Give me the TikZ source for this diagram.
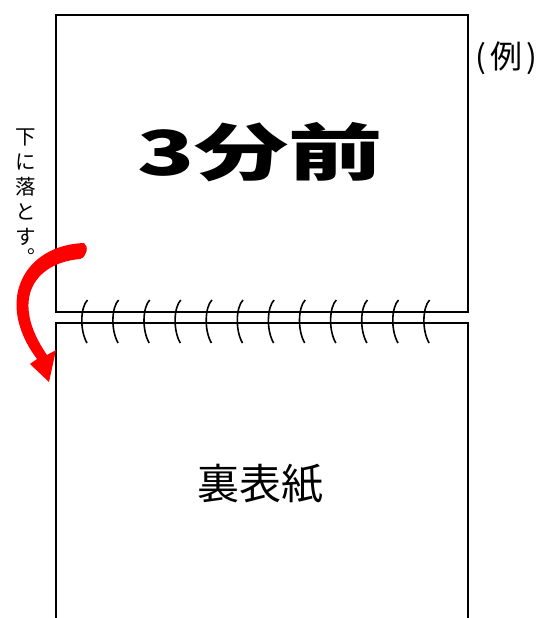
\documentclass[tikz,border=0pt]{standalone}
\usepackage{fontspec}
\usepackage{graphicx}
\newfontfamily\jp{Noto Sans CJK JP}
\usetikzlibrary{arrows.meta}
\begin{document}
\begin{tikzpicture}[x=1pt,y=-1pt,
  frame/.style={line width=2pt,black},
  ring/.style={line width=1.6pt,black},
  vtext/.style={font=\jp\fontsize{20.5}{25}\selectfont,align=center,inner sep=0pt}]
\useasboundingbox (0,0) rectangle (547,618);
\clip (0,0) rectangle (547,618);
% pages
\draw[frame] (56,15) rectangle (468,312);
\draw[frame] (56,640) -- (56,323) -- (468,323) -- (468,640);
% rings
\foreach \i in {0,...,11}{
  \draw[ring] ({87.5+31.1*\i},300) .. controls ({80.5+31.1*\i},307) and ({79.5+31.1*\i},330) .. ({87+31.1*\i},343);
}
% texts
\node[font=\jp\bfseries\fontsize{62}{62}\selectfont,inner sep=0pt] (title) at (260,152) {\scalebox{1.52}[1]{3分前}};
\node[font=\jp\fontsize{42}{42}\selectfont,inner sep=0pt] (back) at (260,484) {裏表紙};
\node[font=\jp\fontsize{32}{32}\selectfont,inner sep=0pt] (ex) at (506,58) {(\kern4pt例\kern4pt)};
\node[vtext] (drop) at (26,187) {下\\に\\落\\と\\す};
\node[font=\jp\fontsize{20}{20}\selectfont,inner sep=0pt,anchor=base west] (dot) at (27,253) {。};
% red arrow
\fill[red] (84,243) .. controls (25,245) and (-7,300) .. (37,359)
  -- (30,364) -- (49,382) -- (56,350) -- (47,355)
  .. controls (9,300) and (34,263) .. (80,259)
  .. controls (87,257) and (89,246) .. (84,243) -- cycle;
\end{tikzpicture}
\end{document}
